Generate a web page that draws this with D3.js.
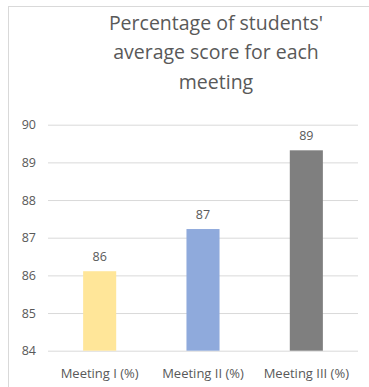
<!DOCTYPE html>
<html>
<head>
<meta charset="utf-8">
<script src="https://cdn.jsdelivr.net/npm/d3@7"></script>
<style>
  body { margin: 0; background: #fff; }
  text { font-family: "Open Sans", sans-serif; fill: #595959; }
</style>
</head>
<body>
<div id="chart"></div>
<script>
var meetings = ['Meeting I (%)', 'Meeting II (%)', 'Meeting III (%)'],
    scores = [86.11, 87.23, 89.32],
    colors = ['#FFE699', '#8FAADC', '#7F7F7F'],
    yTicks = [84, 85, 86, 87, 88, 89, 90],
    titleLines = ["Percentage of students'", 'average score for each', 'meeting'];

var margin = {top: 124.7, right: 11, bottom: 36.3, left: 48},
    W = 369, H = 387,
    width = W - margin.left - margin.right,
    height = H - margin.top - margin.bottom;

var svg = d3.select('#chart')
    .append('svg')
        .attr('width', W)
        .attr('height', H);

// chart frame, runs off the right and bottom edges
svg.append('rect')
    .attr('x', 8.5).attr('y', 6.5)
    .attr('width', W + 10).attr('height', H + 10)
    .attr('fill', 'none')
    .attr('stroke', '#d9d9d9');

svg.append('text')
    .attr('text-anchor', 'middle')
    .style('font-size', '19.5px')
    .selectAll('tspan')
    .data(titleLines)
    .enter().append('tspan')
        .attr('x', 216)
        .attr('y', (d, i) => 29.5 + i * 29.5)
        .text(d => d);

var g = svg.append('g')
    .attr('transform', 'translate(' + margin.left + ',' + margin.top + ')');

var x = d3.scaleBand()
    .domain(meetings)
    .range([0, width])
    .paddingInner(0.68)
    .paddingOuter(0.34);

var y = d3.scaleLinear()
    .domain([84, 90])
    .range([height, 0]);

var yAxis = g.append('g')
    .call(d3.axisLeft(y).tickValues(yTicks).tickSize(-width).tickFormat(d3.format('d')));
yAxis.select('.domain').remove();
yAxis.selectAll('line').attr('stroke', '#d9d9d9');
yAxis.selectAll('text')
    .attr('x', -12)
    .style('font-size', '12.5px')
    .style('font-family', '"Open Sans", sans-serif')
    .attr('fill', '#595959');

var xAxis = g.append('g')
    .attr('transform', 'translate(0,' + height + ')')
    .call(d3.axisBottom(x).tickSize(0).tickPadding(18));
xAxis.select('.domain').remove();
xAxis.selectAll('text')
    .style('font-size', '13px')
    .style('font-family', '"Open Sans", sans-serif')
    .attr('fill', '#595959');

var data = meetings.map((m, i) => ({name: m, value: scores[i], color: colors[i]}));

g.selectAll('rect.bar')
    .data(data)
    .enter().append('rect')
        .attr('class', 'bar')
        .attr('x', d => x(d.name))
        .attr('width', x.bandwidth())
        .attr('y', d => y(d.value))
        .attr('height', d => height - y(d.value))
        .attr('fill', d => d.color);

g.selectAll('text.lbl')
    .data(data)
    .enter().append('text')
        .attr('class', 'lbl')
        .attr('x', d => x(d.name) + x.bandwidth() / 2)
        .attr('y', d => y(d.value) - 10)
        .attr('text-anchor', 'middle')
        .style('font-size', '12.5px')
        .text(d => Math.round(d.value));
</script>
</body>
</html>
